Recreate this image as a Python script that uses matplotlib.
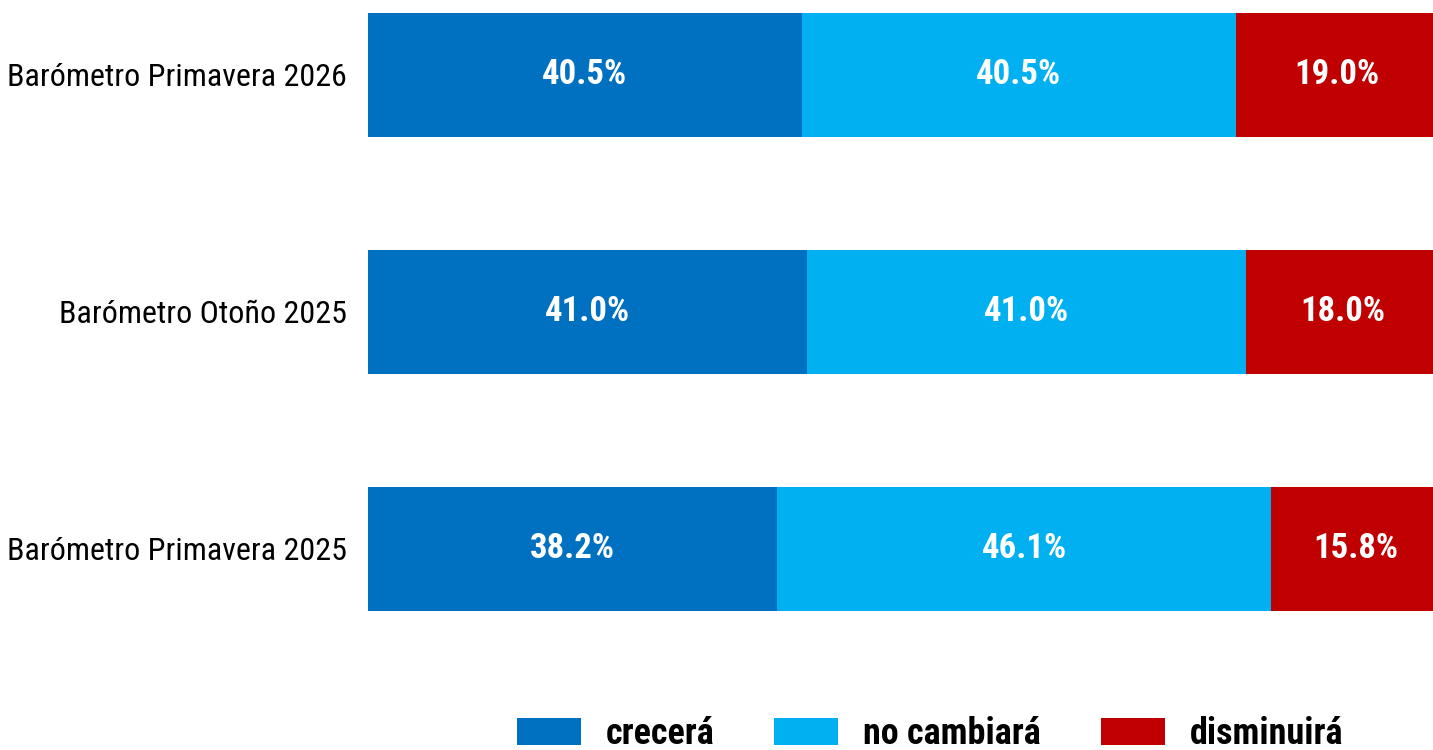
import matplotlib
matplotlib.use("Agg")
import matplotlib.pyplot as plt
from matplotlib.patches import Patch

# data (bottom to top)
surveys = ["Barómetro Primavera 2025", "Barómetro Otoño 2025", "Barómetro Primavera 2026"]
crecera = [38.2, 41.0, 40.5]
no_cambiara = [46.1, 41.0, 40.5]
disminuira = [15.8, 18.0, 19.0]
series_names = ["crecerá", "no cambiará", "disminuirá"]
colors = ["#0070C0", "#00B0F0", "#C00000"]

plt.rcParams['font.family'] = ['Roboto Condensed', 'DejaVu Sans']

fig = plt.figure(figsize=(14.33, 7.5), dpi=100)
# bars run slightly past the right edge of the image
ax = fig.add_axes([368 / 1433, 0.0, 1071 / 1433, 1.0])

ypos = list(range(len(surveys)))
left = [0.0] * len(surveys)
for vals, col in zip([crecera, no_cambiara, disminuira], colors):
    ax.barh(ypos, vals, left=left, height=0.52, color=col, edgecolor='none')
    for y, l, v in zip(ypos, left, vals):
        ax.text(l + v / 2, y, f"{v:.1f}%", ha='center', va='center',
                color='white', fontsize=25, fontweight='bold')
    left = [a + b for a, b in zip(left, vals)]

ax.set_xlim(0, 100)
ax.set_ylim(-0.848, 2.316)
ax.set_yticks(ypos)
ax.set_yticklabels(surveys, fontsize=23)
ax.tick_params(axis='y', length=0, pad=15)
ax.set_xticks([])
for s in ax.spines.values():
    s.set_visible(False)

handles = [Patch(facecolor=c, edgecolor='none') for c in colors]
leg = fig.legend(handles, series_names, loc='center', bbox_to_anchor=(0.649, 0.021),
                 ncol=3, frameon=False, prop={'size': 26, 'weight': 'bold'},
                 handlelength=1.77, handleheight=0.78, handletextpad=0.69,
                 columnspacing=1.66)

fig.savefig("out.png", dpi=100)
